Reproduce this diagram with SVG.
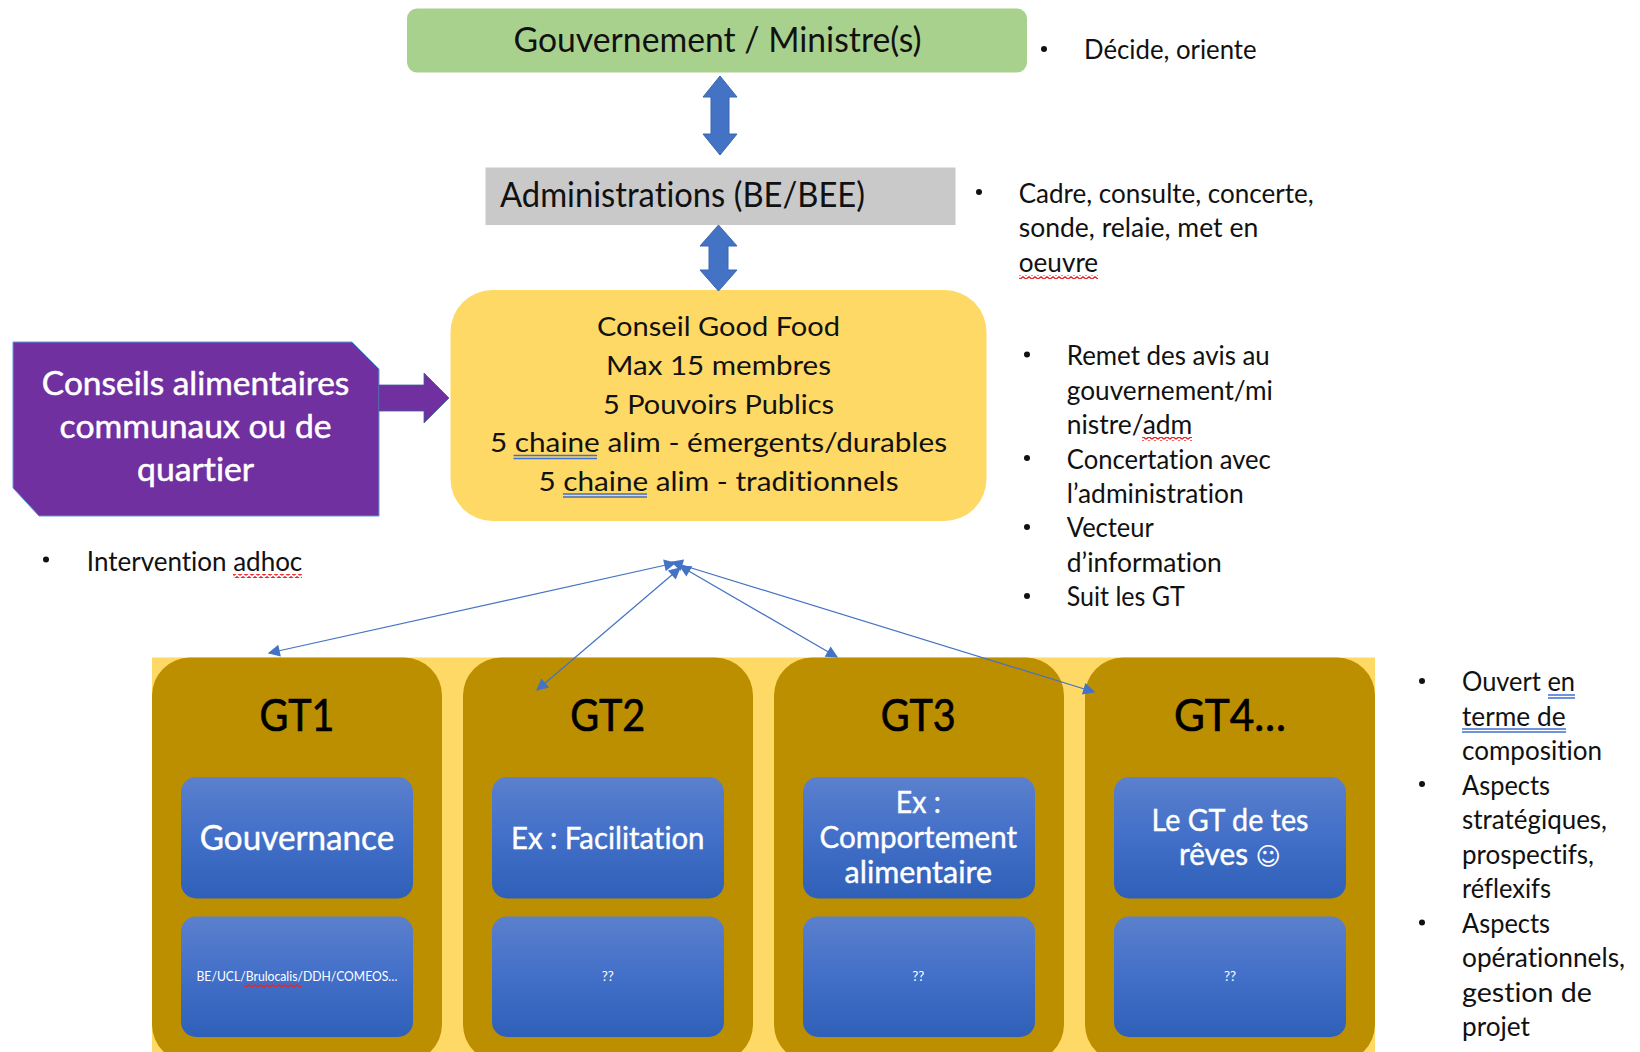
<svg xmlns="http://www.w3.org/2000/svg" width="1640" height="1052" viewBox="0 0 1640 1052">
<style>
text{font-family:Lato,"Liberation Sans",sans-serif;fill:#111;font-variant-ligatures:none;transform:translateY(1px)}
.b{font-size:26px}
.m{font-size:27.5px;text-anchor:middle}
.h{font-size:34px}
.p{font-size:32px;fill:#fff;text-anchor:middle;stroke:#fff;stroke-width:.5}
.gt{font-size:45px;text-anchor:middle;fill:#000;stroke:#000;stroke-width:.7}
.w{fill:#fff;text-anchor:middle;font-size:30.5px;stroke:#fff;stroke-width:.4}
.s{fill:#fff;text-anchor:middle;font-size:13px}
.col{fill:#BC8F00}
.in{fill:url(#bl)}
.cn{stroke:#4472C4;stroke-width:1.2;fill:none;marker-start:url(#ah);marker-end:url(#ah)}
.dbl{stroke:#3f6fd0;stroke-width:1.4;fill:none}
.dot{fill:#111}
</style>
<defs>
<linearGradient id="bl" x1="0" y1="0" x2="0" y2="1"><stop offset="0" stop-color="#5B80CD"/><stop offset=".5" stop-color="#426FC8"/><stop offset="1" stop-color="#2F60B8"/></linearGradient>
<pattern id="sq" width="6" height="4" patternUnits="userSpaceOnUse"><path d="M0 3.2L3 .8L6 3.2" fill="none" stroke="#e5262a" stroke-width="1.4"/></pattern>
<marker id="ah" viewBox="0 0 10 10" refX="9" refY="5" markerWidth="15" markerHeight="12" markerUnits="userSpaceOnUse" orient="auto-start-reverse"><path d="M0 0L10 5L0 10z" fill="#4472C4"/></marker>
</defs>
<rect width="1640" height="1052" fill="#fff"/>

<g id="bande"><rect x="152" y="657.5" width="1223" height="395" fill="#FFD966"/></g>

<g id="gouvernement"><rect x="407" y="8.5" width="620" height="64" rx="10" fill="#A9D18E"/>
<text class="h" x="513.5" y="51" textLength="408" lengthAdjust="spacingAndGlyphs">Gouvernement / Ministre(s)</text></g>
<g id="gouvernement-note"><circle class="dot" cx="1044" cy="49" r="3"/><text class="b" x="1084" y="58" textLength="172.6" lengthAdjust="spacingAndGlyphs">Décide, oriente</text></g>

<g id="administrations"><rect x="485.5" y="167.5" width="470" height="57.5" fill="#C9C9C9"/>
<text class="h" x="500" y="206" textLength="365" lengthAdjust="spacingAndGlyphs">Administrations (BE/BEE)</text></g>
<g id="administrations-note"><circle class="dot" cx="979" cy="192" r="3"/>
<text class="b" x="1018.7" y="202" textLength="295" lengthAdjust="spacingAndGlyphs">Cadre, consulte, concerte,</text>
<text class="b" x="1018.7" y="236.4" textLength="239.5" lengthAdjust="spacingAndGlyphs">sonde, relaie, met en</text>
<text class="b" x="1018.7" y="271" textLength="79.5" lengthAdjust="spacingAndGlyphs">oeuvre</text>
<rect x="1019" y="275" width="79" height="4" fill="url(#sq)"/></g>

<g id="conseil"><rect x="450.5" y="290" width="536" height="231" rx="42" fill="#FFD966"/>
<text class="m" x="718.5" y="335" textLength="243" lengthAdjust="spacingAndGlyphs">Conseil Good Food</text>
<text class="m" x="718.5" y="373.5" textLength="225" lengthAdjust="spacingAndGlyphs">Max 15 membres</text>
<text class="m" x="718.5" y="412.5" textLength="231" lengthAdjust="spacingAndGlyphs">5 Pouvoirs Publics</text>
<text class="m" x="718.5" y="451" textLength="457" lengthAdjust="spacingAndGlyphs">5 chaine alim - émergents/durables</text>
<text class="m" x="718.5" y="489.5" textLength="360" lengthAdjust="spacingAndGlyphs">5 chaine alim - traditionnels</text>
<path class="dbl" d="M513.5 455.5H597M513.5 458.5H597M563 494H647M563 497H647"/></g>
<g id="conseil-note"><circle class="dot" cx="1027" cy="354.6" r="3"/><circle class="dot" cx="1027" cy="458" r="3"/><circle class="dot" cx="1027" cy="527" r="3"/><circle class="dot" cx="1027" cy="596" r="3"/>
<text class="b" x="1066.8" y="364" textLength="203" lengthAdjust="spacingAndGlyphs">Remet des avis au</text>
<text class="b" x="1066.8" y="398.5" textLength="206" lengthAdjust="spacingAndGlyphs">gouvernement/mi</text>
<text class="b" x="1066.8" y="433" textLength="125.5" lengthAdjust="spacingAndGlyphs">nistre/adm</text>
<text class="b" x="1066.8" y="467.5" textLength="204" lengthAdjust="spacingAndGlyphs">Concertation avec</text>
<text class="b" x="1066.8" y="502" textLength="177" lengthAdjust="spacingAndGlyphs">l’administration</text>
<text class="b" x="1066.8" y="536" textLength="87" lengthAdjust="spacingAndGlyphs">Vecteur</text>
<text class="b" x="1066.8" y="571" textLength="155" lengthAdjust="spacingAndGlyphs">d’information</text>
<text class="b" x="1066.8" y="605" textLength="118" lengthAdjust="spacingAndGlyphs">Suit les GT</text>
<rect x="1142" y="437" width="50" height="4" fill="url(#sq)"/></g>

<g id="conseils-alimentaires"><path d="M13 342H352L379 369V516H39L13 488z" fill="#7030A0" stroke="#5B9BD5" stroke-width="1"/>
<text class="p" x="195.6" y="394" textLength="307.5" lengthAdjust="spacingAndGlyphs">Conseils alimentaires</text>
<text class="p" x="195.6" y="437" textLength="272" lengthAdjust="spacingAndGlyphs">communaux ou de</text>
<text class="p" x="195.6" y="480" textLength="117" lengthAdjust="spacingAndGlyphs">quartier</text></g>
<g id="intervention-note"><circle class="dot" cx="46" cy="559.5" r="3"/>
<text class="b" x="86.8" y="569.5" textLength="215.5" lengthAdjust="spacingAndGlyphs">Intervention adhoc</text>
<rect x="233" y="574" width="69" height="4" fill="url(#sq)"/></g>

<g id="gt1"><rect class="col" x="152" y="657.5" width="290" height="405" rx="38"/>
<text class="gt" x="297" y="730" textLength="75" lengthAdjust="spacingAndGlyphs">GT1</text>
<rect class="in" x="181" y="777" width="232" height="121.5" rx="15"/><text class="w" x="297" y="848.5" textLength="194.5" lengthAdjust="spacingAndGlyphs" style="font-size:34px">Gouvernance</text>
<rect class="in" x="181" y="916.5" width="232" height="120.5" rx="15"/><text class="s" x="297" y="980" textLength="201" lengthAdjust="spacingAndGlyphs">BE/UCL/Brulocalis/DDH/COMEOS…</text>
<rect x="244" y="983" width="57" height="4" fill="url(#sq)"/></g>
<g id="gt2"><rect class="col" x="463" y="657.5" width="290" height="405" rx="38"/>
<text class="gt" x="607.7" y="730" textLength="75" lengthAdjust="spacingAndGlyphs">GT2</text>
<rect class="in" x="492" y="777" width="232" height="121.5" rx="15"/><text class="w" x="607.7" y="848" textLength="193.5" lengthAdjust="spacingAndGlyphs">Ex : Facilitation</text>
<rect class="in" x="492" y="916.5" width="232" height="120.5" rx="15"/><text class="s" x="607.7" y="980" textLength="12" lengthAdjust="spacingAndGlyphs">??</text></g>
<g id="gt3"><rect class="col" x="774" y="657.5" width="290" height="405" rx="38"/>
<text class="gt" x="918.3" y="730" textLength="75" lengthAdjust="spacingAndGlyphs">GT3</text>
<rect class="in" x="803" y="777" width="232" height="121.5" rx="15"/>
<text class="w" x="918.3" y="812" textLength="45" lengthAdjust="spacingAndGlyphs">Ex :</text>
<text class="w" x="918.3" y="846.5" textLength="197.7" lengthAdjust="spacingAndGlyphs">Comportement</text>
<text class="w" x="918.3" y="882" textLength="147.5" lengthAdjust="spacingAndGlyphs">alimentaire</text>
<rect class="in" x="803" y="916.5" width="232" height="120.5" rx="15"/><text class="s" x="918.3" y="980" textLength="12" lengthAdjust="spacingAndGlyphs">??</text></g>
<g id="gt4"><rect class="col" x="1085" y="657.5" width="290" height="405" rx="38"/>
<text class="gt" x="1230" y="730" textLength="112" lengthAdjust="spacingAndGlyphs">GT4…</text>
<rect class="in" x="1114" y="777" width="232" height="121.5" rx="15"/>
<text class="w" x="1230" y="829.5" textLength="157" lengthAdjust="spacingAndGlyphs">Le GT de tes</text>
<text class="w" x="1230" y="864" textLength="102" lengthAdjust="spacingAndGlyphs">rêves <tspan style="font-family:'DejaVu Sans',sans-serif;font-size:25px;stroke:none">☺</tspan></text>
<rect class="in" x="1114" y="916.5" width="232" height="120.5" rx="15"/><text class="s" x="1230" y="980" textLength="12" lengthAdjust="spacingAndGlyphs">??</text></g>
<g id="gt-note"><circle class="dot" cx="1422" cy="681" r="3"/><circle class="dot" cx="1422" cy="784" r="3"/><circle class="dot" cx="1422" cy="922.5" r="3"/>
<text class="b" x="1462" y="690" textLength="113" lengthAdjust="spacingAndGlyphs">Ouvert en</text>
<text class="b" x="1462" y="725" textLength="103.5" lengthAdjust="spacingAndGlyphs">terme de</text>
<text class="b" x="1462" y="759" textLength="140" lengthAdjust="spacingAndGlyphs">composition</text>
<text class="b" x="1462" y="794" textLength="88" lengthAdjust="spacingAndGlyphs">Aspects</text>
<text class="b" x="1462" y="828" textLength="145" lengthAdjust="spacingAndGlyphs">stratégiques,</text>
<text class="b" x="1462" y="863" textLength="132" lengthAdjust="spacingAndGlyphs">prospectifs,</text>
<text class="b" x="1462" y="897" textLength="89" lengthAdjust="spacingAndGlyphs">réflexifs</text>
<text class="b" x="1462" y="932" textLength="88" lengthAdjust="spacingAndGlyphs">Aspects</text>
<text class="b" x="1462" y="966" textLength="163" lengthAdjust="spacingAndGlyphs">opérationnels,</text>
<text class="b" x="1462" y="1000.5" textLength="130" lengthAdjust="spacingAndGlyphs">gestion de</text>
<text class="b" x="1462" y="1035" textLength="68" lengthAdjust="spacingAndGlyphs">projet</text>
<path class="dbl" d="M1548 695H1575M1548 698H1575M1462 729H1566M1462 732H1566"/></g>

<g id="connecteurs">
<path d="M720 76L737 97H729V134H737L720 155L703 134H711V97H703z" fill="#4472C4" stroke="#3a66b0"/>
<path d="M718.5 225L737 246H728V270H737L718.5 291L700 270H709V246H700z" fill="#4472C4" stroke="#3a66b0"/>
<path d="M379 385H424V373L449 398L424 423V411H379z" fill="#7030A0" stroke="#3f5f9f" stroke-width=".8"/>
<path class="cn" d="M675 563L269 653"/>
<path class="cn" d="M680 568L537 690"/>
<path class="cn" d="M680 566L837 657"/>
<path class="cn" d="M672 562L1094 692"/>
</g>
</svg>
